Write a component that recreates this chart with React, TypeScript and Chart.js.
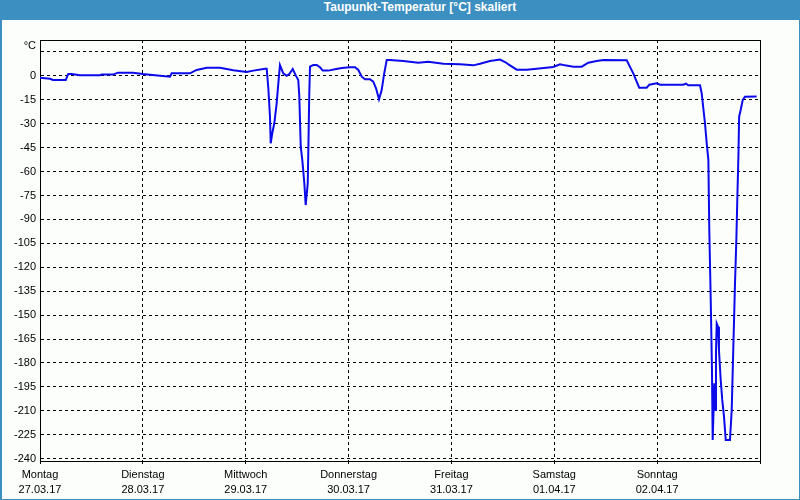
import React, { useEffect, useRef } from 'react';
import { Chart, registerables } from 'chart.js';

Chart.register(...registerables);

const titleText = 'Taupunkt-Temperatur [°C] skaliert';
const yUnit = '°C';
const dayLabels = ['Montag', 'Dienstag', 'Mittwoch', 'Donnerstag', 'Freitag', 'Samstag', 'Sonntag'];
const dateLabels = ['27.03.17', '28.03.17', '29.03.17', '30.03.17', '31.03.17', '01.04.17', '02.04.17'];
const xTickDays = [0, 1, 2, 3, 4, 5, 6, 7];
const yTickValues = [15, 0, -15, -30, -45, -60, -75, -90, -105, -120, -135, -150, -165, -180, -195, -210, -225, -240];
const yMin = -241.5;
const yMax = 22.5;

// time in days since Monday 27.03.17 00:00
const dayOffsets = [
  0, 0.097, 0.126, 0.25, 0.275, 0.308, 0.389, 0.583, 0.6, 0.71,
  0.758, 0.904, 1.0, 1.167, 1.264, 1.28, 1.458, 1.523, 1.621, 1.75,
  1.879, 2.01, 2.074, 2.188, 2.204, 2.22, 2.236, 2.243, 2.258, 2.278,
  2.301, 2.317, 2.333, 2.365, 2.398, 2.424, 2.457, 2.489, 2.511, 2.521,
  2.535, 2.55, 2.57, 2.583, 2.603, 2.611, 2.618, 2.625, 2.657, 2.69,
  2.722, 2.749, 2.803, 2.868, 2.933, 3.014, 3.063, 3.095, 3.128, 3.16,
  3.208, 3.24, 3.267, 3.296, 3.322, 3.344, 3.371, 3.403, 3.532, 3.678,
  3.775, 3.921, 4.083, 4.213, 4.278, 4.375, 4.472, 4.521, 4.569, 4.635,
  4.732, 4.829, 4.99, 5.056, 5.104, 5.185, 5.267, 5.331, 5.412, 5.477,
  5.704, 5.768, 5.801, 5.826, 5.898, 5.924, 5.996, 6.028, 6.254, 6.28,
  6.303, 6.417, 6.433, 6.449, 6.465, 6.482, 6.498, 6.507, 6.521, 6.533,
  6.54, 6.556, 6.566, 6.572, 6.579, 6.592, 6.601, 6.618, 6.633, 6.65,
  6.667, 6.708, 6.725, 6.74, 6.757, 6.77, 6.78, 6.79, 6.797, 6.812,
  6.832, 6.854, 6.967,
];

const dewPoints = [
  -1.1, -1.8, -2.6, -2.6, 1.2, 1.2, 0.4, 0.4, 0.8, 0.8,
  2.0, 2.0, 1.2, 0.1, -0.5, 1.6, 1.6, 3.7, 5.1, 5.1,
  3.5, 2.4, 3.3, 4.5, 4.5, -7.8, -25.6, -42.3, -36.0, -29.7,
  -17.2, -4.7, 6.8, 1.6, 0.0, 1.2, 4.3, 0.0, -2.6, -13.0,
  -44.4, -52.7, -67.4, -81.0, -67.4, -38.1, -10.9, 5.8, 6.8, 6.8,
  5.4, 3.3, 3.3, 4.1, 4.9, 5.4, 5.4, 3.7, -0.5, -2.1,
  -2.1, -3.6, -7.8, -14.7, -8.9, 0.6, 9.9, 9.9, 9.3, 8.3,
  8.9, 7.6, 7.3, 6.6, 7.6, 9.3, 10.2, 8.7, 6.6, 3.9,
  3.9, 4.5, 5.6, 7.3, 6.6, 5.8, 5.8, 8.3, 9.3, 9.9,
  9.8, 1.6, -3.6, -7.4, -7.4, -5.5, -4.7, -5.5, -5.5, -4.9,
  -5.9, -5.9, -10.9, -20.3, -29.7, -42.3, -52.7, -96.6, -140.5, -184.4,
  -228.3, -192.8, -209.5, -174.0, -155.2, -157.3, -171.9, -190.7, -203.2, -213.7,
  -228.3, -228.3, -209.5, -171.9, -130.1, -102.9, -75.8, -50.7, -25.6, -21.4,
  -15.1, -13.1, -13.0,
];

const FONT = '"Liberation Sans", Arial, sans-serif';

export default function App() {
  const ref = useRef<HTMLCanvasElement>(null);

  useEffect(() => {
    const canvas = ref.current;
    if (!canvas) return;

    const framePlugin = {
      id: 'frame',
      afterDraw(chart: any) {
        const { ctx, chartArea } = chart;
        const { left, top, right, bottom } = chartArea;
        ctx.save();
        ctx.strokeStyle = '#000';
        ctx.lineWidth = 1;
        ctx.setLineDash([]);
        ctx.beginPath();
        ctx.moveTo(Math.round(left), Math.round(top) + 0.5);
        ctx.lineTo(Math.round(right) + 1, Math.round(top) + 0.5);
        ctx.moveTo(Math.round(right) + 0.5, Math.round(top));
        ctx.lineTo(Math.round(right) + 0.5, Math.round(bottom) + 1);
        ctx.stroke();
        ctx.fillStyle = '#000';
        ctx.font = '11px ' + FONT;
        ctx.textAlign = 'right';
        ctx.textBaseline = 'middle';
        ctx.fillText(yUnit, left - 4, top + 6);
        ctx.restore();
      },
    };

    const points = dayOffsets.map((d, i) => ({ x: d, y: dewPoints[i] }));

    const chart = new Chart(canvas, {
      type: 'line',
      data: {
        datasets: [
          {
            data: points,
            borderColor: '#0a0aeb',
            borderWidth: 2,
            pointRadius: 0,
            tension: 0,
            fill: false,
          },
        ],
      },
      options: {
        responsive: false,
        animation: false,
        devicePixelRatio: 1,
        layout: { padding: { top: 40, right: 40, bottom: 0, left: 0 } },
        plugins: {
          legend: { display: false },
          tooltip: { enabled: false },
          title: { display: false },
        },
        scales: {
          x: {
            type: 'linear',
            min: 0,
            max: 7,
            afterBuildTicks: (s: any) => {
              s.ticks = xTickDays.map((v) => ({ value: v }));
            },
            afterFit: (s: any) => {
              s.height = 39;
            },
            grid: {
              color: '#000',
              lineWidth: 1,
              drawTicks: true,
              tickLength: 3,
              tickColor: '#000',
            },
            border: { display: true, color: '#000', width: 1, dash: [3, 3] },
            ticks: {
              color: '#000',
              padding: 3.5,
              maxRotation: 0,
              autoSkip: false,
              font: { family: FONT, size: 11, lineHeight: 15 / 11 },
              callback: (value: any) => {
                const i = Math.round(Number(value));
                return i < dayLabels.length ? [dayLabels[i], dateLabels[i]] : '';
              },
            },
          },
          y: {
            type: 'linear',
            min: yMin,
            max: yMax,
            afterBuildTicks: (s: any) => {
              s.ticks = yTickValues.map((v) => ({ value: v }));
            },
            afterFit: (s: any) => {
              s.width = 40;
            },
            grid: {
              color: '#000',
              lineWidth: 1,
              drawTicks: false,
            },
            border: { display: true, color: '#000', width: 1, dash: [3, 3] },
            ticks: {
              color: '#000',
              padding: 4,
              autoSkip: false,
              font: { family: FONT, size: 11 },
              callback: (value: any) => (Number(value) === 15 ? '' : String(value)),
            },
          },
        },
      },
      plugins: [framePlugin],
    } as any);

    return () => chart.destroy();
  }, []);

  return (
    <div
      style={{
        position: 'fixed',
        left: 0,
        top: 0,
        width: 800,
        height: 500,
        background: '#3c8fc1',
        overflow: 'hidden',
      }}
    >
      <div
        style={{
          position: 'absolute',
          left: 2,
          top: 20,
          width: 797,
          height: 479,
          background: '#fcfefc',
        }}
      />
      <div
        style={{
          position: 'absolute',
          left: 0,
          top: 0,
          width: 800,
          height: 20,
          lineHeight: '20px',
          paddingLeft: 40,
          boxSizing: 'border-box',
          textAlign: 'center',
          color: '#fff',
          font: 'bold 12px ' + FONT,
        }}
      >
        {titleText}
      </div>
      <canvas
        ref={ref}
        width={800}
        height={500}
        style={{ position: 'absolute', left: 0, top: 0, width: 800, height: 500 }}
      />
    </div>
  );
}
